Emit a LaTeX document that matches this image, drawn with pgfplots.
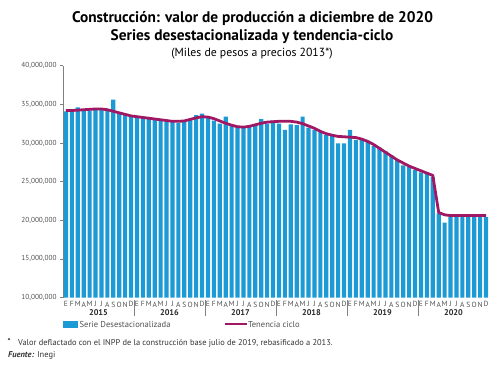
\documentclass[border=0pt]{standalone}
\usepackage{pgfplots}
\pgfplotsset{compat=1.18}
\usepackage{pgfplotstable}
\usepackage{fontspec}
\setmainfont{PT Sans}
\definecolor{barblue}{RGB}{27,154,214}
\definecolor{trendmag}{RGB}{160,24,100}
\definecolor{tickgray}{RGB}{80,80,80}

\pgfplotstableread{
x bar trend
0 34100000 34200000
1 34100000 34200000
2 34600000 34250000
3 34200000 34300000
4 34200000 34350000
5 34300000 34400000
6 34300000 34400000
7 34200000 34300000
8 35600000 34100000
9 33800000 33900000
10 33600000 33700000
11 33400000 33500000
12 33300000 33400000
13 33300000 33300000
14 33100000 33200000
15 33000000 33100000
16 32900000 33000000
17 32700000 32900000
18 32700000 32800000
19 32600000 32800000
20 32800000 32850000
21 33100000 33050000
22 33600000 33250000
23 33800000 33400000
24 33300000 33350000
25 32900000 33150000
26 32500000 32850000
27 33400000 32550000
28 32300000 32300000
29 32100000 32100000
30 32000000 32050000
31 32200000 32150000
32 32400000 32350000
33 33100000 32550000
34 32500000 32700000
35 32900000 32750000
36 32500000 32800000
37 31700000 32800000
38 32400000 32800000
39 32300000 32700000
40 33400000 32500000
41 32000000 32200000
42 31700000 31900000
43 31400000 31500000
44 31000000 31200000
45 31000000 31000000
46 29950000 30850000
47 29950000 30800000
48 31700000 30750000
49 30400000 30700000
50 30400000 30500000
51 30300000 30200000
52 29600000 29800000
53 29400000 29300000
54 28900000 28800000
55 28400000 28300000
56 27800000 27800000
57 27100000 27400000
58 26900000 27000000
59 26500000 26700000
60 26200000 26400000
61 26000000 26100000
62 25600000 25800000
63 20900000 21000000
64 19700000 20700000
65 20400000 20600000
66 20400000 20600000
67 20400000 20600000
68 20400000 20600000
69 20400000 20600000
70 20400000 20600000
71 20400000 20600000
}\datatable

\begin{document}
\begin{tikzpicture}
\path[use as bounding box] (0,0) rectangle (500bp,378bp);
\node[font=\bfseries\fontsize{15.4}{17}\selectfont] at (252.5bp,359.5bp) {Construcción: valor de producción a diciembre de 2020};
\node[font=\bfseries\fontsize{15.4}{17}\selectfont] at (252bp,341bp) {Series desestacionalizada y tendencia-ciclo};
\node[font=\fontsize{11.8}{13}\selectfont] at (252bp,324.5bp) {(Miles de pesos a precios 2013*)};

\begin{axis}[
  at={(63bp,80.5bp)}, anchor=south west,
  scale only axis, width=426bp, height=231.8bp,
  xmin=-0.5, xmax=71.5,
  ymin=10000000, ymax=40000000,
  axis y line*=left, axis x line*=bottom,
  x axis line style={draw=none},
  y axis line style={draw=gray, line width=0.6pt, -},
  ytick={10000000,15000000,20000000,25000000,30000000,35000000,40000000},
  scaled y ticks=false,
  yticklabel style={font=\fontsize{7.3}{8}\selectfont, color=tickgray,
    /pgf/number format/.cd, fixed, 1000 sep={,}, assume math mode=true},
  tick align=outside, major tick length=3bp,
  major y tick style={draw=gray, line width=0.5pt},
  major x tick style={draw=none},
  xtick={0,...,71},
  xticklabels={E,F,M,A,M,J,J,A,S,O,N,D,E,F,M,A,M,J,J,A,S,O,N,D,E,F,M,A,M,J,J,A,S,O,N,D,E,F,M,A,M,J,J,A,S,O,N,D,E,F,M,A,M,J,J,A,S,O,N,D,E,F,M,A,M,J,J,A,S,O,N,D},
  xticklabel style={font=\fontsize{7.5}{8}\selectfont, color=tickgray, inner sep=1pt},
  clip=false,
]
\addplot[ybar, bar width=4.2bp, bar shift=0pt, fill=barblue, draw=none] table[x=x, y=bar] {\datatable};
\addplot[trendmag, line width=2.8bp, line join=round, no marks] table[x=x, y=trend] {\datatable};
\node[font=\bfseries\fontsize{8.3}{9}\selectfont, color=black!85, yshift=-15.5bp] at (axis cs:5.5,10000000) {2015};
\node[font=\bfseries\fontsize{8.3}{9}\selectfont, color=black!85, yshift=-15.5bp] at (axis cs:17.5,10000000) {2016};
\node[font=\bfseries\fontsize{8.3}{9}\selectfont, color=black!85, yshift=-15.5bp] at (axis cs:29.5,10000000) {2017};
\node[font=\bfseries\fontsize{8.3}{9}\selectfont, color=black!85, yshift=-15.5bp] at (axis cs:41.5,10000000) {2018};
\node[font=\bfseries\fontsize{8.3}{9}\selectfont, color=black!85, yshift=-15.5bp] at (axis cs:53.5,10000000) {2019};
\node[font=\bfseries\fontsize{8.3}{9}\selectfont, color=black!85, yshift=-15.5bp] at (axis cs:65.5,10000000) {2020};
\draw[gray, line width=0.5pt] ([yshift=-2.5bp]axis cs:11.5,10000000) -- ([yshift=-18.5bp]axis cs:11.5,10000000);
\draw[gray, line width=0.5pt] ([yshift=-2.5bp]axis cs:23.5,10000000) -- ([yshift=-18.5bp]axis cs:23.5,10000000);
\draw[gray, line width=0.5pt] ([yshift=-2.5bp]axis cs:35.5,10000000) -- ([yshift=-18.5bp]axis cs:35.5,10000000);
\draw[gray, line width=0.5pt] ([yshift=-2.5bp]axis cs:47.5,10000000) -- ([yshift=-18.5bp]axis cs:47.5,10000000);
\draw[gray, line width=0.5pt] ([yshift=-2.5bp]axis cs:59.5,10000000) -- ([yshift=-18.5bp]axis cs:59.5,10000000);
\end{axis}

% legend
\fill[barblue] (63bp,50bp) rectangle (78bp,57bp);
\node[anchor=west, font=\fontsize{8.6}{9}\selectfont, color=tickgray, inner sep=1pt] at (78.5bp,53.5bp) {Serie Desestacionalizada};
\draw[trendmag, line width=2bp] (225bp,53.5bp) -- (247bp,53.5bp);
\node[anchor=west, font=\fontsize{8.6}{9}\selectfont, color=tickgray, inner sep=1pt] at (247bp,53.5bp) {Tenencia ciclo};

% footnote
\node[anchor=west, font=\fontsize{8.5}{9}\selectfont, inner sep=0pt] at (7.5bp,37bp) {*};
\node[anchor=west, font=\fontsize{8.45}{9}\selectfont, color=black!80, inner sep=0pt] at (18bp,34.5bp) {Valor deflactado con el INPP de la construcción base julio de 2019, rebasificado a 2013.};
\node[anchor=west, font=\fontsize{8.45}{9}\selectfont, color=black!80, inner sep=0pt] at (8bp,23bp) {\textbf{\textit{Fuente:}} Inegi};
\end{tikzpicture}
\end{document}
